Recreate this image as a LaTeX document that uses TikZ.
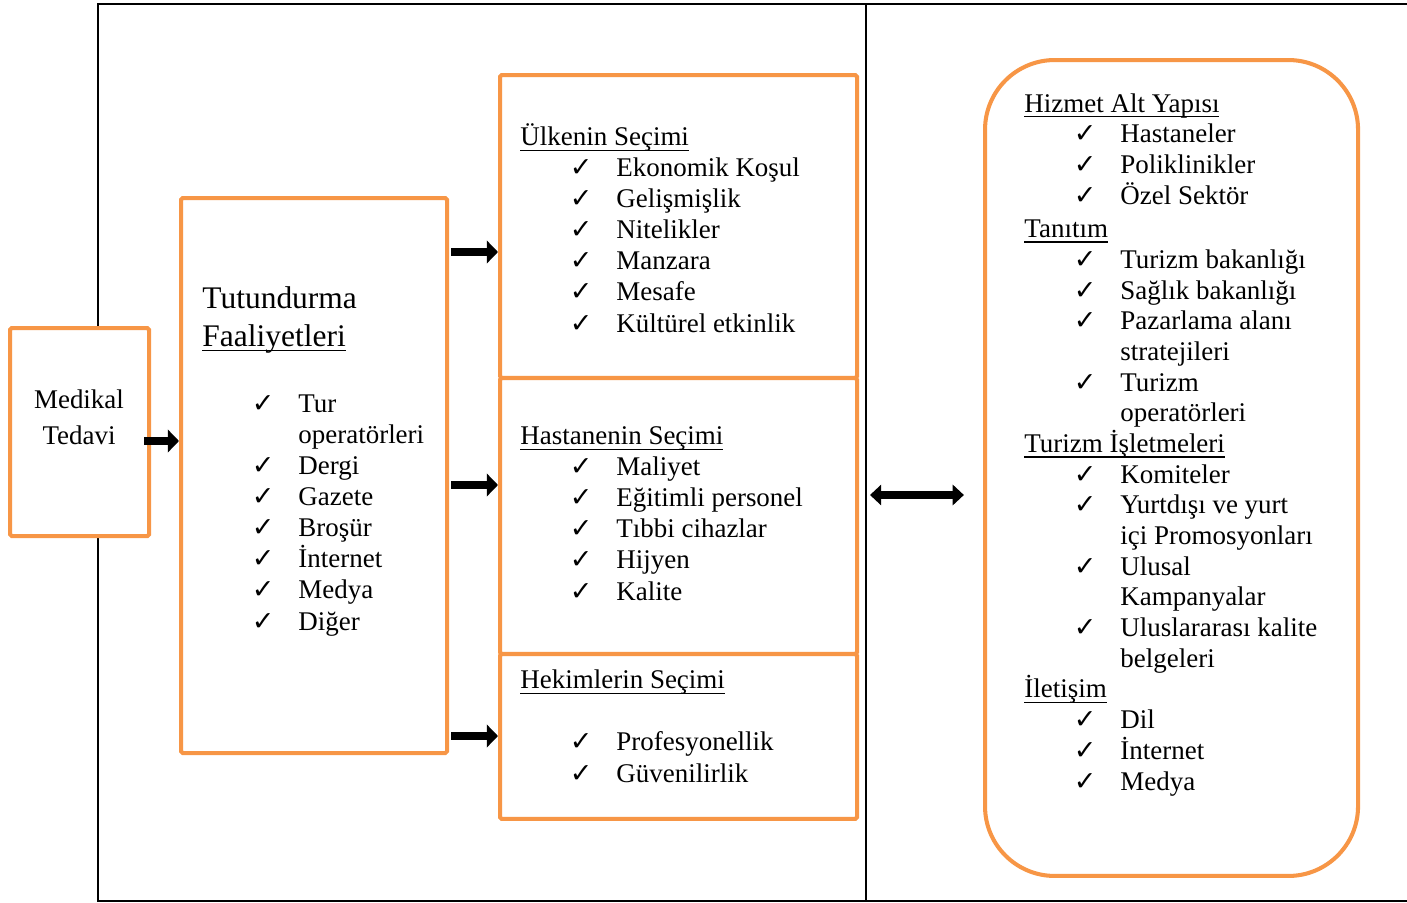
\documentclass[tikz,border=0pt]{standalone}
\usepackage{fontspec}
\setmainfont{Liberation Serif}
\newfontfamily\ckfont{DejaVu Sans}
\usepackage{tikz}
\usetikzlibrary{arrows.meta,positioning}
\definecolor{mtorange}{RGB}{247,150,70}
\newcommand{\ck}{\hspace*{22pt}\makebox[20.7pt][l]{\ckfont ✓}}
\newcommand{\cnt}{\hspace*{42.7pt}}
\newcommand{\uln}[1]{\setbox0\hbox{#1}\rlap{\rule[-2.2pt]{\wd0}{0.6pt}}\box0}
\tikzset{
  obox/.style={draw=mtorange, line width=1.8pt, fill=white, rounded corners=0.8pt, anchor=north west, inner sep=0pt},
  listtext/.style={anchor=base west, align=left, inner sep=0pt, font=\fontsize{12}{13.8}\selectfont},
  blkarrow/.style={line width=3.6pt, -{Triangle[length=5pt,width=10pt]}},
  dblarrow/.style={line width=3.2pt, {Triangle[length=5pt,width=9pt]}-{Triangle[length=5pt,width=9pt]}},
  frame/.style={line width=0.9pt}
}

\begin{document}
\begin{tikzpicture}[x=0.445pt, y=-0.445pt]
\useasboundingbox (0,0) rectangle (1407,903);
% frame
\draw[frame] (1407,4) -- (98,4) -- (98,901) -- (1407,901);
\draw[frame] (866,4) -- (866,901);

% boxes
\node[obox, minimum width=61.9pt, minimum height=92.6pt] (med) at (8,326) {};
\node[obox, minimum width=118.4pt, minimum height=247pt] (tut) at (179,196) {};
\node[obox, minimum width=158.9pt, minimum height=134.8pt] (ulk) at (498,73) {};
\node[obox, minimum width=158.9pt, minimum height=122.8pt] (hast) at (498,376) {};
\node[obox, minimum width=158.9pt, minimum height=73.4pt] (hek) at (498,652) {};
\node[obox, minimum width=166pt, minimum height=363.1pt, rounded corners=31pt] (rbox) at (983,58) {};

% texts (anchored at the last baseline)
\node[anchor=base, align=center, inner sep=0pt, font=\fontsize{12}{16}\selectfont] (medtxt) at (79,444) {Medikal\\Tedavi};
\node[anchor=base west, align=left, inner sep=0pt, font=\fontsize{14}{16.5}\selectfont] (tuttitle) at (202,346) {Tutundurma\\\uln{Faaliyetleri}};
\node[listtext] (tutlist) at (202,630) {\ck Tur\\
  \cnt operatörleri\\
  \ck Dergi\\
  \ck Gazete\\
  \ck Broşür\\
  \ck İnternet\\
  \ck Medya\\
  \ck Diğer};
\node[listtext] (ulklist) at (520,332) {\uln{Ülkenin Seçimi}\\
  \ck Ekonomik Koşul\\
  \ck Gelişmişlik\\
  \ck Nitelikler\\
  \ck Manzara\\
  \ck Mesafe\\
  \ck Kültürel etkinlik};
\node[listtext] (hastlist) at (520,600) {\uln{Hastanenin Seçimi}\\
  \ck Maliyet\\
  \ck Eğitimli personel\\
  \ck Tıbbi cihazlar\\
  \ck Hijyen\\
  \ck Kalite};
\node[listtext] (heklist) at (520,782) {\uln{Hekimlerin Seçimi}\\[13.8pt]
  \ck Profesyonellik\\
  \ck Güvenilirlik};
\node[listtext, font=\fontsize{12}{13.65}\selectfont] (rlist) at (1024,790) {\uln{Hizmet Alt Yapısı}\\
  \ck Hastaneler\\
  \ck Poliklinikler\\
  \ck Özel Sektör\\[1.3pt]
  \uln{Tanıtım}\\
  \ck Turizm bakanlığı\\
  \ck Sağlık bakanlığı\\
  \ck Pazarlama alanı\\
  \cnt stratejileri\\
  \ck Turizm\\
  \cnt operatörleri\\
  \uln{Turizm İşletmeleri}\\
  \ck Komiteler\\
  \ck Yurtdışı ve yurt\\
  \cnt içi Promosyonları\\
  \ck Ulusal\\
  \cnt Kampanyalar\\
  \ck Uluslararası kalite\\
  \cnt belgeleri\\
  \uln{İletişim}\\
  \ck Dil\\
  \ck İnternet\\
  \ck Medya};

% arrows
\coordinate (a0) at (0,441);
\coordinate (a1) at (0,252);
\coordinate (a2) at (0,485);
\coordinate (a3) at (0,736);
\coordinate (d0) at (870,495);
\draw[blkarrow] ([xshift=-3pt]med.east |- a0) -- (tut.west |- a0);
\draw[blkarrow] ([xshift=1pt]tut.east |- a1) -- (ulk.west |- a1);
\draw[blkarrow] ([xshift=1pt]tut.east |- a2) -- (hast.west |- a2);
\draw[blkarrow] ([xshift=1pt]tut.east |- a3) -- (hek.west |- a3);
\draw[dblarrow] (d0) -- ([xshift=-8.5pt]rbox.west |- d0);
\end{tikzpicture}
\end{document}
